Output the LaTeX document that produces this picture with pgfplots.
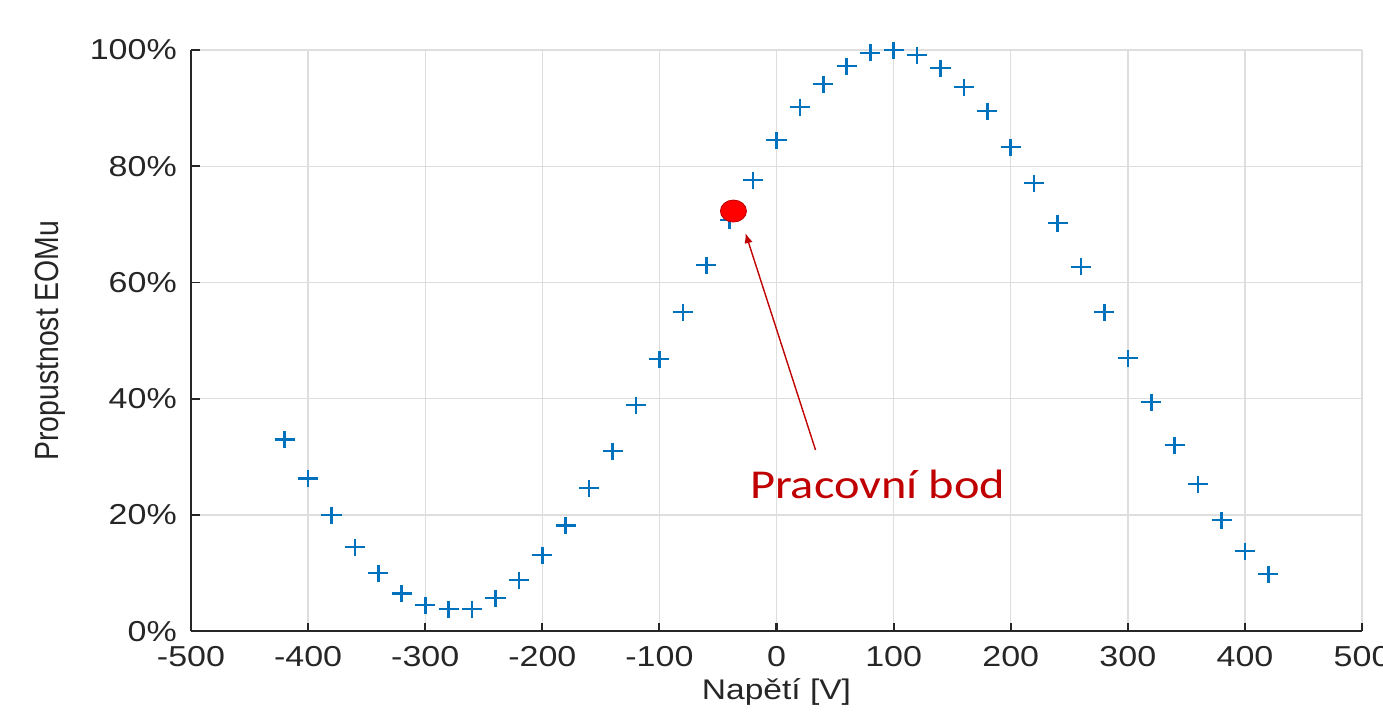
\documentclass[border=0pt]{standalone}
\usepackage{pgfplots}
\pgfplotsset{compat=1.18}
\usepackage{pgfplotstable}
\usepackage{graphicx}
\usepackage{fontspec}
\setmainfont{Liberation Sans}
\newfontfamily\carlito{Carlito}
\usetikzlibrary{arrows.meta}

\definecolor{mblue}{RGB}{0,114,189}
\definecolor{txtgray}{RGB}{38,38,38}
\definecolor{gridgray}{RGB}{222,222,222}
\definecolor{darkred}{RGB}{192,0,0}

% Transmission of the EOM versus applied voltage
\pgfplotstableread{
x y
-420 33.0
-400 26.3
-380 20.0
-360 14.5
-340 10.0
-320 6.5
-300 4.5
-280 3.8
-260 3.8
-240 5.7
-220 8.8
-200 13.1
-180 18.2
-160 24.6
-140 31.0
-120 38.9
-100 46.8
-80 54.9
-60 63.0
-40 70.7
-20 77.6
0 84.5
20 90.2
40 94.1
60 97.2
80 99.5
100 100.0
120 99.1
140 96.9
160 93.6
180 89.5
200 83.3
220 77.1
240 70.2
260 62.7
280 54.9
300 47.0
320 39.4
340 32.0
360 25.3
380 19.1
400 13.8
420 9.8
}\transmission

% Operating point
\pgfplotstableread{
x y
-36.8 72.3
}\workpoint

\begin{document}
\scalebox{1.18}[1]{%
\begin{tikzpicture}
\begin{axis}[
  scale only axis,
  width=496pt, height=290.5pt,
  xmin=-500, xmax=500, ymin=0, ymax=100,
  xtick={-500,-400,...,500},
  ytick={0,20,...,100},
  yticklabel={\pgfmathprintnumber{\tick}\%},
  /pgf/number format/assume math mode=true,
  axis x line*=bottom, axis y line*=left,
  axis line style={-, txtgray, line width=1pt},
  tick align=inside,
  major tick length=4pt,
  tick style={txtgray, line width=0.9pt},
  grid=major,
  major grid style={gridgray, line width=0.6pt},
  tick label style={font=\fontsize{14.4}{17}\selectfont, text=txtgray},
  every x tick label/.append style={yshift=-4pt},
  every y tick label/.append style={xshift=-2.5pt},
  xlabel={Napětí [V]},
  ylabel={Propustnost EOMu},
  label style={font=\fontsize{14.2}{17}\selectfont, text=txtgray},
  xlabel style={at={(axis description cs:0.5,-0.105)}, anchor=center},
  ylabel style={at={(axis description cs:-0.1204,0.5)}, anchor=center, rotate=0},
  clip=false,
]
\addplot[only marks, mark=+, mark size=4.25pt, mblue, line width=1.1pt] table[x=x, y=y] {\transmission};
\addplot[only marks, mark=*, mark size=5.5pt, mark options={fill=red, draw=darkred, line width=0.4pt}] table[x=x, y=y] {\workpoint};
\draw[darkred, line width=0.6pt, -{Latex[length=5pt, width=3.5pt]}] (axis cs:33.3,31.2) -- (axis cs:-26.5,68.5);
\node[anchor=base, text=darkred, font=\carlito\fontsize{20.5}{24}\selectfont, inner sep=0pt] at (axis cs:86.3,22.9) {Pracovní bod};
\coordinate (bbsw) at (rel axis cs:-0.1631,-0.1463);
\coordinate (bbne) at (rel axis cs:1.0179,1.0861);
\end{axis}
\pgfresetboundingbox
\path[use as bounding box] (bbsw) rectangle (bbne);
\end{tikzpicture}}
\end{document}
